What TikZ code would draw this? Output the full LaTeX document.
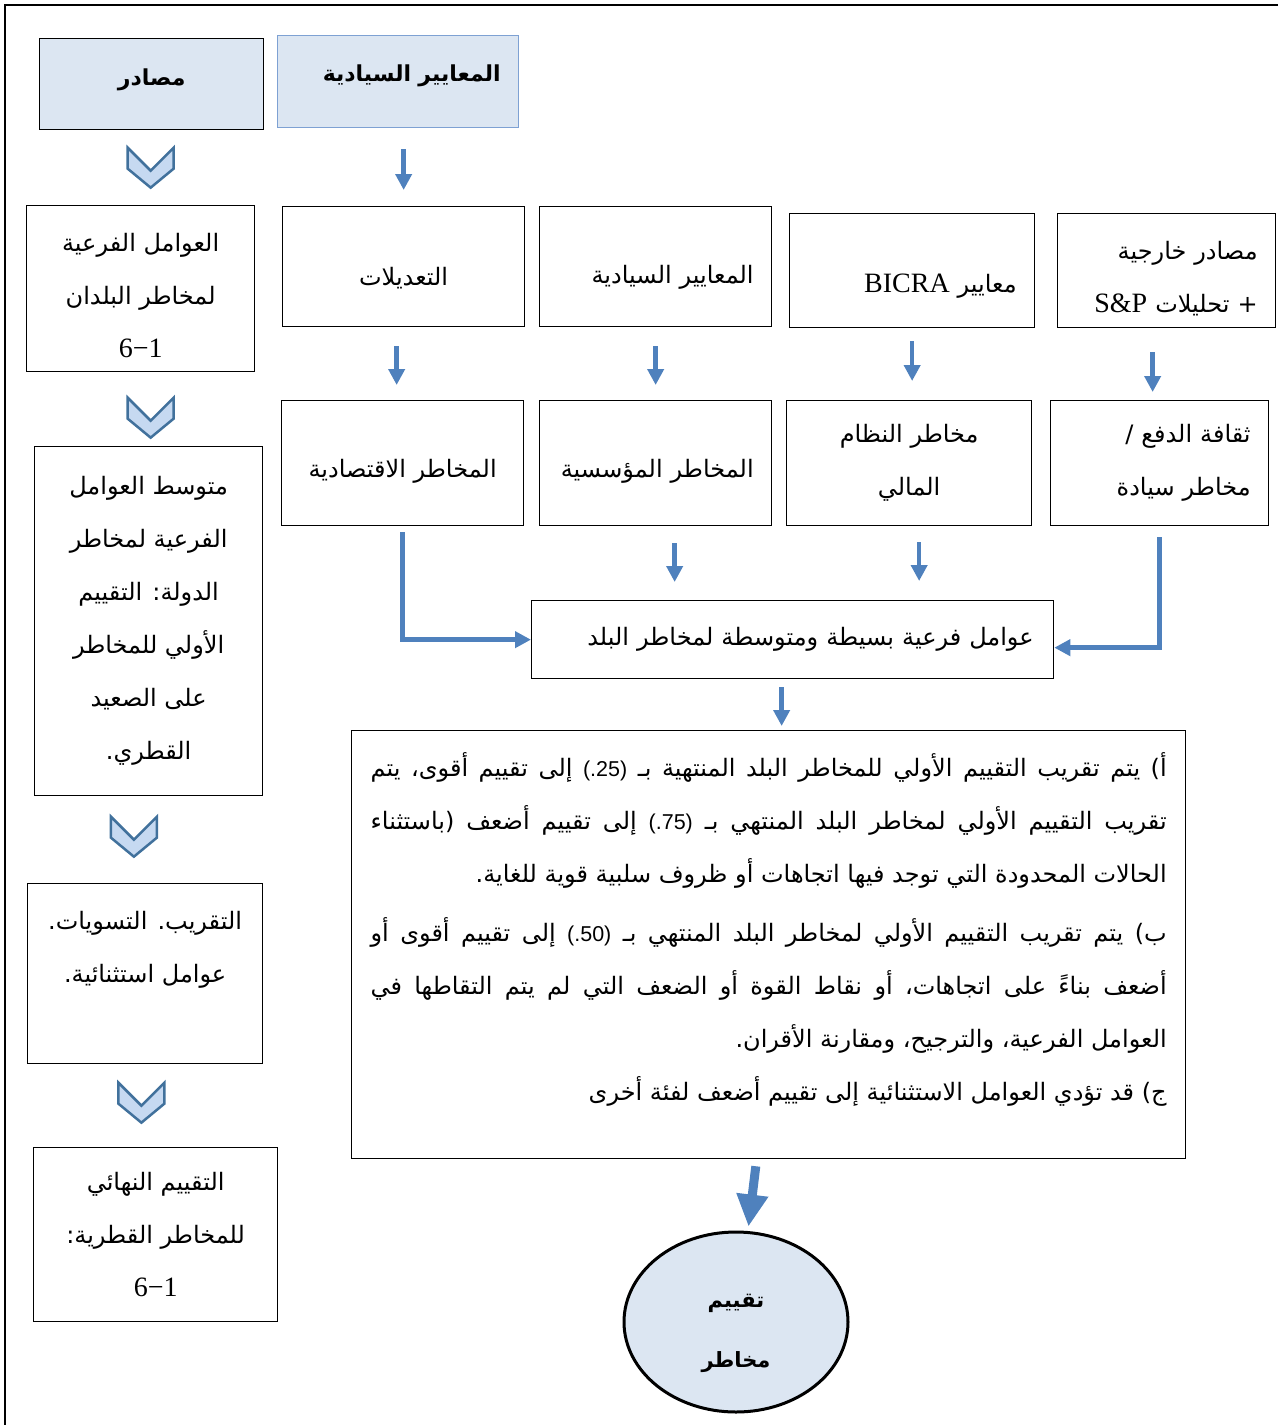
\documentclass[tikz,border=0pt]{standalone}
\usepackage{fontspec}
\setmainfont{Liberation Serif}
\newfontfamily\arabicfont[Script=Arabic]{DejaVu Sans}
\newfontfamily\latinfont{Liberation Serif}
\newfontfamily\numfont{Liberation Sans}
\TeXXeTstate=1
\usetikzlibrary{arrows.meta, shapes.geometric, calc}

\definecolor{boxblue}{HTML}{DCE6F2}
\definecolor{arrblue}{HTML}{4F81BD}
\definecolor{chevfill}{HTML}{C6D9F1}
\definecolor{chevline}{HTML}{41719C}
\definecolor{headline}{HTML}{7EA1D3}

\newcommand{\artxt}[1]{\beginR #1\endR}
\newcommand{\lattxt}[1]{\beginL{\latinfont\fontsize{28}{53}\selectfont #1}\endL}
\newcommand{\numtxt}[1]{\beginL{\numfont\fontsize{21.5}{53}\selectfont #1}\endL}
\newcommand{\jline}[1]{\hbox to \hsize{\beginR #1\endR}}
\newcommand{\rline}[1]{\hbox to \hsize{\hfil\beginR #1\endR}}
\newcommand{\downchev}[1]{\draw[chev] ([shift={(-23,-20)}]#1) -- ++(23,23) -- ++(23,-23) -- ++(0,21) -- ++(-23,19) -- ++(-23,-19) -- cycle;}

\begin{document}
\begin{tikzpicture}[x=1pt, y=-1pt,
    box/.style={draw, line width=1.3pt, inner sep=0pt, align=center, font=\arabicfont\fontsize{24}{53}\selectfont},
    rbox/.style={box, align=right, inner xsep=18pt},
    low/.style={text height=#1, text depth=0pt},
    head/.style={box, fill=boxblue, font=\arabicfont\bfseries\fontsize{22}{53}\selectfont},
    arr/.style={arrblue, line width=4.5pt, -{Triangle[width=16pt,length=16pt]}},
    bigarr/.style={arrblue, line width=9pt, -{Triangle[width=30pt,length=32pt]}},
    chev/.style={draw=chevline, fill=chevfill, line width=2.5pt, line join=miter}]
    \useasboundingbox (0,0) rectangle (1278,1425);
    \draw[line width=2.5pt] (1278,5) -- (5,5) -- (5,1425);

    % left column
    \node[head, low=2pt, anchor=north west, minimum width=224pt, minimum height=91pt] (src) at (39,38) {\artxt{مصادر}};
    \node[box, text height=140pt, text depth=2pt, anchor=north west, minimum width=228pt, minimum height=166pt] (factors) at (26,205) {\artxt{العوامل الفرعية}\\ \artxt{لمخاطر البلدان}\\ \lattxt{6−1}};
    \node[box, anchor=north west, minimum width=228pt, minimum height=349pt] (avg) at (34,446) {\artxt{متوسط العوامل}\\ \artxt{الفرعية لمخاطر}\\ \artxt{الدولة: التقييم}\\ \artxt{الأولي للمخاطر}\\ \artxt{على الصعيد}\\ \artxt{القطري.}};
    \node[box, anchor=north west, minimum width=235pt, minimum height=180pt] (approx) at (27,883) {\artxt{التقريب. التسويات.}\\ \artxt{عوامل استثنائية.}\\ ~};
    \node[box, anchor=north west, minimum width=244pt, minimum height=174pt] (final) at (33,1147) {\artxt{التقييم النهائي}\\ \artxt{للمخاطر القطرية:}\\ \lattxt{6−1}};

    \coordinate (chA) at ($(src.south)!.5!(factors.north)+(4.5,0)$);
    \coordinate (chB) at ($(factors.south)!.5!(avg.north)+(6,8.5)$);
    \coordinate (chC) at ($(avg.south)!.5!(approx.north)+(-13,-3)$);
    \coordinate (chD) at ($(approx.south)!.5!(final.north)+(-9,-3)$);
    \downchev{chA}
    \downchev{chB}
    \downchev{chC}
    \downchev{chD}

    % top rows
    \node[head, draw=headline, low=0pt, anchor=north west, minimum height=92pt, text width=205pt, align=right, inner xsep=18pt] (hdrstd) at (277,35) {\artxt{المعايير السيادية}};
    \node[box, low=38pt, anchor=north west, minimum width=242pt, minimum height=120pt] (tadil) at (282,206) {\artxt{التعديلات}};
    \node[rbox, low=34pt, anchor=north west, text width=196pt, minimum height=120pt] (sovereign) at (539,206) {\artxt{المعايير السيادية}};
    \node[rbox, low=44pt, anchor=north west, text width=209pt, minimum height=114pt] (bicra) at (789,213) {\artxt{معايير \lattxt{BICRA}}};
    \node[rbox, text height=41pt, text depth=63pt, anchor=north west, text width=182pt, minimum height=114pt] (external) at (1057,213) {\artxt{مصادر خارجية}\\ \artxt{+ تحليلات \lattxt{S\&P}}};

    \node[box, low=29pt, anchor=north west, minimum width=242pt, minimum height=125pt] (econ) at (281,400) {\artxt{المخاطر الاقتصادية}};
    \node[rbox, low=29pt, anchor=north west, text width=196pt, minimum height=125pt] (inst) at (539,400) {\artxt{المخاطر المؤسسية}};
    \node[box, anchor=north west, minimum width=245pt, minimum height=125pt] (fin) at (786,400) {\artxt{مخاطر النظام}\\ \artxt{المالي}};
    \node[rbox, anchor=north west, text width=182pt, minimum height=125pt] (pay) at (1050,400) {\artxt{ثقافة الدفع /}\\ \artxt{مخاطر سيادة}};

    \node[rbox, anchor=north west, text width=482pt, minimum height=78pt, inner xsep=20pt] (sub) at (531,600) {\artxt{عوامل فرعية بسيطة ومتوسطة لمخاطر البلد}};

    \node[box, anchor=north west, minimum width=834pt, minimum height=428pt, font=\arabicfont\fontsize{24}{53}\selectfont] (rules) at (351,730) {\vbox{\hsize=796pt
        \jline{أ) يتم تقريب التقييم الأولي للمخاطر البلد المنتهية بـ \numtxt{(.25)} إلى تقييم أقوى، يتم}
        \jline{تقريب التقييم الأولي لمخاطر البلد المنتهي بـ \numtxt{(.75)} إلى تقييم أضعف (باستثناء}
        \rline{الحالات المحدودة التي توجد فيها اتجاهات أو ظروف سلبية قوية للغاية.}
        \vskip 6pt
        \jline{ب) يتم تقريب التقييم الأولي لمخاطر البلد المنتهي بـ \numtxt{(.50)} إلى تقييم أقوى أو}
        \jline{أضعف بناءً على اتجاهات، أو نقاط القوة أو الضعف التي لم يتم التقاطها في}
        \rline{العوامل الفرعية، والترجيح، ومقارنة الأقران.}
        \rline{ج) قد تؤدي العوامل الاستثنائية إلى تقييم أضعف لفئة أخرى}
        \vskip 30pt}};

    \node[ellipse, draw, line width=3pt, fill=boxblue, minimum width=224pt, minimum height=180pt, inner sep=0pt, align=center, text height=100pt, text depth=10pt, font=\arabicfont\bfseries\fontsize{21}{60}\selectfont] (risk) at (736,1322) {\artxt{تقييم}\\ \artxt{مخاطر}};

    % arrows
    \draw[arr, shorten <=21pt, shorten >=16pt] (hdrstd.south -| tadil.north) -- (tadil.north);
    \draw[arr, shorten <=19pt, shorten >=15pt] ([xshift=-7pt]tadil.south) -- ([xshift=-7pt]tadil.south |- econ.north);
    \draw[arr, shorten <=19pt, shorten >=15pt] (sovereign.south) -- (inst.north);
    \draw[arr, shorten <=13pt, shorten >=19pt] (bicra.south) -- (bicra.south |- fin.north);
    \draw[arr, shorten <=24pt, shorten >=8pt] ([xshift=-14pt]external.south) -- ([xshift=-14pt]external.south |- pay.north);
    \draw[arr, shorten <=17pt, shorten >=18pt] ([xshift=19pt]inst.south) -- ([xshift=19pt]inst.south |- sub.north);
    \draw[arr, shorten <=16pt, shorten >=19pt] ([xshift=10pt]fin.south) -- ([xshift=10pt]fin.south |- sub.north);
    \draw[arr, shorten <=6pt] (econ.south) |- (sub.west);
    \draw[arr, shorten <=11pt] (pay.south) |- ([yshift=-8pt]sub.east);
    \draw[arr, shorten <=8pt, shorten >=4pt] ([xshift=-11pt]sub.south) -- ([xshift=-11pt]sub.south |- rules.north);
    \draw[bigarr, shorten <=7pt, shorten >=4pt] ([xshift=-12pt]rules.south) -- ([xshift=12pt]risk.north);
\end{tikzpicture}
\end{document}
